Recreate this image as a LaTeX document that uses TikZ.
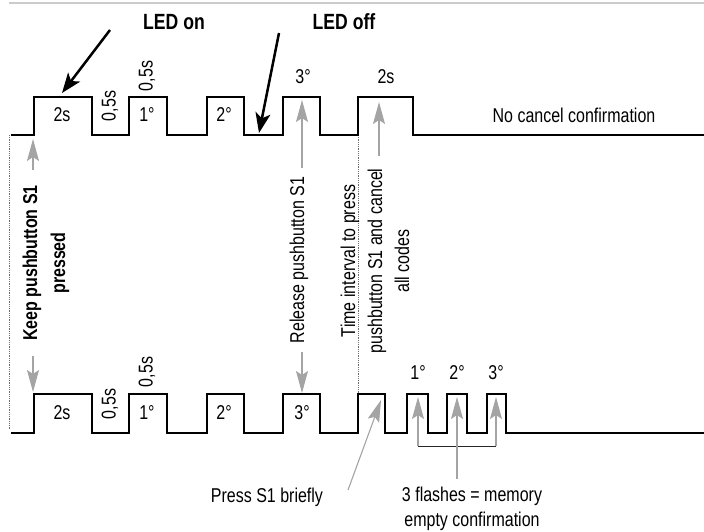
\documentclass[tikz,border=0pt]{standalone}
\usepackage{fontspec}
\setmainfont{Liberation Sans}[FakeStretch=0.8]
\usetikzlibrary{arrows.meta}
\definecolor{ink}{HTML}{000000}
\definecolor{hintc}{HTML}{A4A4A4}
\definecolor{guidec}{HTML}{6E6E6E}
\definecolor{framec}{HTML}{CBCBCB}

\begin{document}
\begin{tikzpicture}[x=1pt, y=-1pt, text=ink,
  wave/.style={draw=ink, line width=2.5pt, line join=miter},
  lbl/.style={font=\fontsize{20}{27}\selectfont, inner sep=1pt, align=center},
  bold/.style={font=\fontsize{20}{28}\selectfont\bfseries, inner sep=1pt, align=center},
  hd/.style={font=\fontsize{22}{26}\selectfont\bfseries, inner sep=1pt},
  led/.style={draw=ink, line width=2.5pt, -{Stealth[length=20pt, width=15pt, inset=5pt]}},
  hint/.style={draw=hintc, line width=1.1pt, -{Stealth[length=22pt, width=12pt, inset=4pt]}},
  guide/.style={draw=guidec, line width=0.8pt, densely dotted},
  tie/.style={draw=ink!85, line width=0.9pt}
]
\useasboundingbox (0,0) rectangle (704,531);
\draw[draw=framec, line width=2pt] (9,2.5) -- (704,2.5);

% ---- guides
\draw[guide] (9,135) -- (9,430);
\draw[guide] (358,135) -- (358,393);

% ---- top trace: no cancel
\draw[wave] (11,135) \foreach \a/\b in {34/92,129/167,207/244,283/320,358/413}
  { -- (\a,135) -- (\a,97) -- (\b,97) -- (\b,135) } -- (704,135);
\node[lbl] (t2s) at (62,115) {2s};
\node[lbl, rotate=90] (t05a) at (110,106) {0,5s};
\node[lbl, rotate=90] (t05b) at (147,76) {0,5s};
\node[lbl] (t1) at (147,115) {1°};
\node[lbl] (t2) at (224,115) {2°};
\node[lbl] (t3) at (303,77) {3°};
\node[lbl] (t2sb) at (386,77) {2s};
\node[lbl] (nocancel) at (574,115) {No cancel confirmation};

% ---- bottom trace: memory cleared
\draw[wave] (11,433) \foreach \a/\b in {34/92,129/167,207/244,283/320,358/385,407/428,447/467,487/506}
  { -- (\a,433) -- (\a,394) -- (\b,394) -- (\b,433) } -- (704,433);
\node[lbl] (b2s) at (62,413) {2s};
\node[lbl, rotate=90] (b05a) at (110,404) {0,5s};
\node[lbl, rotate=90] (b05b) at (147,372) {0,5s};
\node[lbl] (b1) at (147,413) {1°};
\node[lbl] (b2) at (224,413) {2°};
\node[lbl] (b3) at (302,413) {3°};
\foreach \x/\t in {418/1°,457/2°,496/3°}
  \node[lbl] (f\x) at (\x,373) {\t};

% ---- LED callouts
\node[hd] (ledon) at (174,22) {LED on};
\node[hd] (ledoff) at (344,22) {LED off};
\coordinate (onTail) at (110,30);
\coordinate (onTip) at (62,93);
\coordinate (offTail) at (279,33);
\coordinate (offTip) at (259,133);
\draw[led] (onTail) -- (onTip);
\draw[led] (offTail) -- (offTip);

% ---- pushbutton notes
\node[bold, rotate=90, inner xsep=15pt] (keep) at (46,263) {Keep pushbutton S1\\pressed};
\coordinate (keepUp) at (33,139);
\coordinate (keepDn) at (33,392);
\draw[hint] (keep.east -| keepUp) -- (keepUp);
\draw[hint] (keep.west -| keepDn) -- (keepDn);

\node[lbl, rotate=90, inner xsep=9pt] (release) at (299,260) {Release pushbutton S1};
\coordinate (relUp) at (302,100);
\coordinate (relDn) at (302,393);
\draw[hint] (release.east -| relUp) -- (relUp);
\draw[hint] (release.west -| relDn) -- (relDn);

\node[lbl, rotate=90, inner xsep=12pt] (timeint) at (375,261) {Time interval to press\\pushbutton S1 and cancel\\all codes};
\coordinate (tiUp) at (379,102);
\draw[hint] (timeint.east -| tiUp) -- (tiUp);

% ---- bottom notes
\node[lbl] (press) at (267,497) {Press S1 briefly};
\coordinate (pressTail) at (348,490);
\coordinate (pressTip) at (381,400);
\draw[hint] (pressTail) -- (pressTip);

\node[lbl, font=\fontsize{20}{25}\selectfont, inner ysep=8pt] (flashes) at (472,509) {3 flashes = memory\\empty confirmation};
\coordinate (fl1) at (418,397);
\coordinate (fl2) at (457,397);
\coordinate (fl3) at (496,397);
\coordinate (tieL) at (418,446);
\coordinate (tieR) at (496,446);
\draw[tie] (tieL) -- (tieR);
\draw[hint] (tieL) -- (fl1);
\draw[hint] (tieR) -- (fl3);
\draw[hint] (flashes.north -| fl2) -- (fl2);
\end{tikzpicture}
\end{document}
